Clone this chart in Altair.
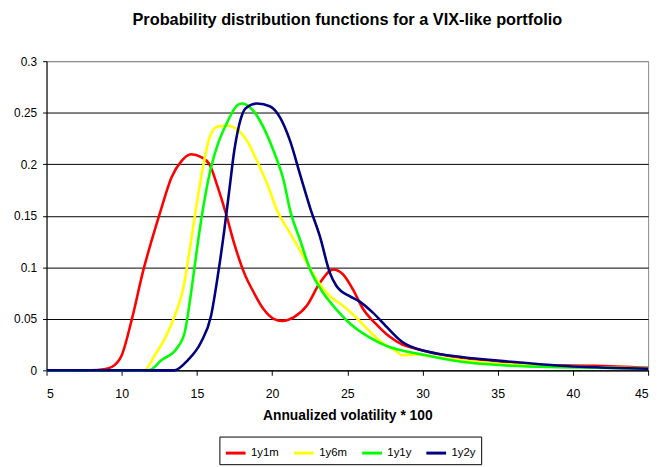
import altair as alt
import pandas as pd

series_names = ["1y1m", "1y6m", "1y1y", "1y2y"]
series_colors = ["#FF0000", "#FFFF00", "#00FF00", "#000080"]

x_1y1m = [5, 8.0, 8.8, 9.36, 10.0, 10.68, 11.45, 12.0, 12.65, 13.3, 13.97, 14.62, 15.28, 15.83,
          16.38, 16.93, 17.48, 18.14, 18.8, 19.45, 20.1, 20.66, 21.43, 22.3, 23.18, 24.06, 24.72,
          25.37, 26.03, 26.9, 27.78, 28.66, 29.54, 31.5, 34.8, 38.1, 41.4, 45]
y_1y1m = [0, 0, 0.001, 0.0035, 0.0147, 0.050, 0.098, 0.1265, 0.158, 0.187, 0.203, 0.2096, 0.207,
          0.200, 0.178, 0.152, 0.123, 0.0946, 0.075, 0.059, 0.050, 0.048, 0.0514, 0.0626, 0.085,
          0.0978, 0.093, 0.0786, 0.060, 0.045, 0.033, 0.025, 0.021, 0.0147, 0.009, 0.005, 0.0045,
          0.0025]

x_1y6m = [5, 11.5, 12.2, 12.87, 13.53, 14.08, 14.52, 14.95, 15.4, 15.83, 16.38, 17.04, 17.7,
          18.36, 19.0, 19.67, 20.33, 21.2, 22.08, 22.96, 23.84, 24.72, 25.6, 26.47, 27.35, 28.2,
          28.66, 29.54, 31.5, 34.8, 38.1, 41.4, 45]
y_1y6m = [0, 0, 0.0147, 0.031, 0.053, 0.0786, 0.117, 0.158, 0.197, 0.2255, 0.2367, 0.2374,
          0.2335, 0.222, 0.203, 0.181, 0.155, 0.133, 0.1105, 0.088, 0.072, 0.0626, 0.051, 0.038,
          0.0265, 0.019, 0.0147, 0.0153, 0.0115, 0.0067, 0.0045, 0.003, 0.002]

x_1y1y = [5, 11.8, 12.65, 13.64, 14.19, 14.52, 14.85, 15.18, 15.5, 15.94, 16.38, 17.04, 17.7,
          18.0, 18.8, 19.45, 20.1, 20.77, 21.2, 21.86, 22.52, 23.4, 24.28, 25.37, 26.47, 27.56,
          29.98, 32.6, 35.9, 39.2, 43.6, 45]
y_1y1y = [0, 0, 0.01, 0.021, 0.037, 0.066, 0.101, 0.136, 0.165, 0.197, 0.219, 0.2415, 0.2575,
          0.259, 0.251, 0.235, 0.2128, 0.184, 0.155, 0.1265, 0.098, 0.075, 0.059, 0.043, 0.032,
          0.024, 0.0153, 0.0083, 0.0045, 0.003, 0.002, 0.0018]

x_1y2y = [5, 13.5, 14.4, 15.28, 15.94, 16.38, 16.82, 17.15, 17.48, 17.81, 18.24, 19.0, 19.88,
          20.55, 21.2, 21.86, 22.52, 23.18, 23.84, 24.28, 25.15, 25.8, 26.7, 27.56, 28.66, 30.4,
          32.6, 35.9, 39.2, 43.6, 45]
y_1y2y = [0, 0, 0.010, 0.0275, 0.053, 0.091, 0.136, 0.1745, 0.2128, 0.2383, 0.2543, 0.259,
          0.256, 0.2447, 0.2224, 0.190, 0.158, 0.1297, 0.0946, 0.0818, 0.072, 0.067, 0.056, 0.043,
          0.0275, 0.018, 0.013, 0.0083, 0.0045, 0.002, 0.0015]

x_ticks = [5, 10, 15, 20, 25, 30, 35, 40, 45]
y_ticks = [0, 0.05, 0.1, 0.15, 0.2, 0.25, 0.3]

all_x = [x_1y1m, x_1y6m, x_1y1y, x_1y2y]
all_y = [y_1y1m, y_1y6m, y_1y1y, y_1y2y]

FONT = "Liberation Sans"

color_scale = alt.Scale(domain=series_names, range=series_colors)

layers = []
for name, xs, ys in zip(series_names, all_x, all_y):
    df = pd.DataFrame({"x": xs, "y": ys, "series": name})
    layer = alt.Chart(df).mark_line(strokeWidth=2.6, interpolate="monotone").encode(
        x=alt.X("x:Q", scale=alt.Scale(domain=[5, 45], nice=False),
                axis=alt.Axis(values=x_ticks, title="Annualized volatility * 100", grid=False,
                              tickSize=5, labelPadding=12, titlePadding=9, format="~g",
                              labelFontSize=12.5, titleFontSize=14)),
        y=alt.Y("y:Q", scale=alt.Scale(domain=[0, 0.3], nice=False),
                axis=alt.Axis(values=y_ticks, title=None, grid=True, tickSize=4,
                              labelPadding=6, format="~g", labelFontSize=12,
                              gridColor=alt.condition("datum.value >= 0.3", alt.value("#888888"),
                                                      alt.value("#000000")))),
        color=alt.Color("series:N", scale=color_scale,
                        legend=alt.Legend(title=None, orient="none", legendX=175, legendY=380,
                                          direction="horizontal")),
    )
    layers.append(layer)

chart = alt.layer(*layers).properties(
    width=609,
    height=313,
    autosize=alt.AutoSizeParams(type="none"),
    padding={"left": 39, "top": 51, "right": 10, "bottom": 94},
    title=alt.TitleParams("Probability distribution functions for a VIX-like portfolio",
                          fontSize=16.5, fontWeight="bold", font=FONT, color="black", offset=27),
).configure_view(
    stroke="#888888", strokeWidth=1
).configure_axis(
    labelFont=FONT, titleFont=FONT, titleFontWeight="bold",
    labelColor="black", titleColor="black", domainColor="#000000", tickColor="#000000",
    gridWidth=1, domainWidth=1,
).configure_legend(
    labelFont=FONT, labelFontSize=11.5, labelColor="black", strokeColor="black", padding=5,
    symbolType="stroke", symbolStrokeWidth=3, symbolSize=400, labelOffset=4,
    columnPadding=8, fillColor="white",
)

chart.save("out.html", embed_options={"renderer": "svg", "actions": False})
